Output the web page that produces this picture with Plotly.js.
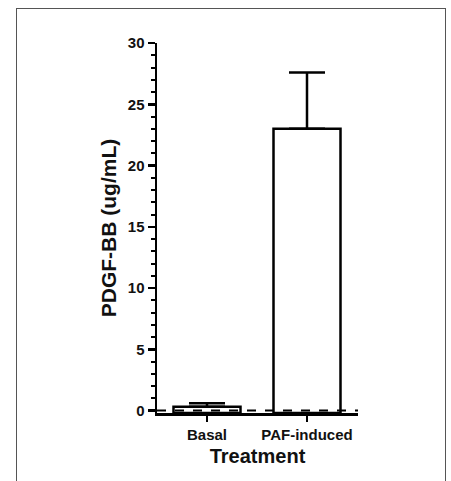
<!DOCTYPE html>
<html>
<head>
<meta charset="utf-8">
<script src="https://cdn.plot.ly/plotly-3.0.1.min.js"></script>
<style>
  html, body { margin: 0; padding: 0; background: #fff; }
  #wrap { position: relative; width: 451px; height: 481px; }
  #frame { position: absolute; left: 16px; top: 8px; width: 428px; height: 480px;
           border-left: 1.5px solid #555; border-top: 1.5px solid #555; border-right: 1.5px solid #555; }
  #chart { position: absolute; left: 0; top: 0; width: 451px; height: 481px; }
</style>
</head>
<body>
<div id="wrap">
  <div id="frame"></div>
  <div id="chart"></div>
</div>
<script>
const categories = ["Basal", "PAF-induced"];
const means = [0.3, 23.0];
const errUp = [0.3, 4.6];
const errDown = [0, 0];
const yTicks = [0, 5, 10, 15, 20, 25, 30];
const baselineValue = 0;

const font = "Liberation Sans, Arial, sans-serif";
const axisFloor = -0.2;

const trace = {
  type: "bar",
  x: categories,
  y: means.map(v => v - axisFloor),
  base: axisFloor,
  width: 0.67,
  marker: { color: "#ffffff", line: { color: "#000", width: 2.5 } },
  error_y: {
    type: "data", symmetric: false, array: errUp, arrayminus: errDown,
    color: "#000", thickness: 2.5, width: 18
  },
  hoverinfo: "skip"
};

const layout = {
  width: 451, height: 481,
  margin: { l: 157, r: 93, t: 43, b: 68 },
  paper_bgcolor: "rgba(0,0,0,0)",
  plot_bgcolor: "rgba(0,0,0,0)",
  showlegend: false,
  font: { family: font, color: "#000" },
  xaxis: {
    type: "category",
    range: [-0.5, 1.51],
    tickvals: categories,
    ticktext: categories.map(c => "<b>" + c + "</b>"),
    showline: true, linecolor: "#000", linewidth: 3,
    ticks: "outside", ticklen: 6, tickwidth: 2.5, tickcolor: "#000",
    showgrid: false, zeroline: false,
    tickfont: { family: font, size: 15, color: "#111" },
    title: { text: "<b>Treatment</b>", font: { family: font, size: 20, color: "#111" }, standoff: 7 }
  },
  yaxis: {
    range: [axisFloor, 30],
    tickvals: yTicks,
    ticktext: yTicks.map(v => "<b>" + v + "</b>"),
    showline: true, linecolor: "#000", linewidth: 2.5,
    ticks: "outside", ticklen: 7, tickwidth: 2.5, tickcolor: "#000",
    minor: { dtick: 1, tick0: 0, ticks: "outside", ticklen: 4, tickwidth: 2, tickcolor: "#000" },
    showgrid: false, zeroline: false,
    tickfont: { family: font, size: 15, color: "#111" },
    title: { text: "<b>PDGF-BB (ug/mL)</b>", font: { family: font, size: 21, color: "#111" }, standoff: 6 }
  },
  shapes: [{
    type: "line", xref: "paper", yref: "y",
    x0: 0, x1: 1, y0: baselineValue, y1: baselineValue,
    line: { color: "#000", width: 2, dash: "dash" }
  }]
};

Plotly.newPlot("chart", [trace], layout, { staticPlot: true, displayModeBar: false });
</script>
</body>
</html>
